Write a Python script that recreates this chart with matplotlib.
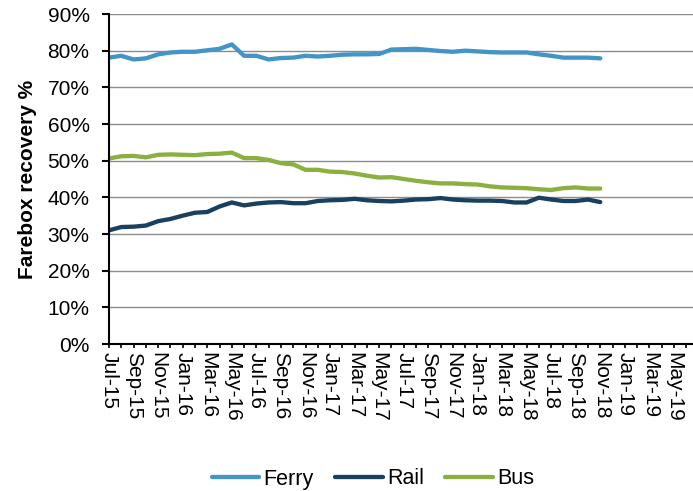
import numpy as np
import matplotlib
matplotlib.use("Agg")
import matplotlib.pyplot as plt
from matplotlib.ticker import FixedLocator, PercentFormatter

# Monthly farebox recovery (%), Jul-15 .. Nov-18
ferry = [78.1, 78.6, 77.6, 77.9, 79.0, 79.5, 79.7, 79.7, 80.1, 80.5, 81.7,
         78.6, 78.6, 77.6, 78.0, 78.1, 78.6, 78.4, 78.6, 78.9, 79.0, 79.0,
         79.1, 80.3, 80.4, 80.5, 80.2, 79.9, 79.7, 80.0, 79.8, 79.6, 79.5,
         79.5, 79.5, 79.0, 78.6, 78.1, 78.1, 78.1, 77.9]
rail = [31.0, 31.9, 32.0, 32.3, 33.5, 34.1, 35.0, 35.8, 36.0, 37.5, 38.6,
        37.8, 38.3, 38.6, 38.7, 38.4, 38.4, 39.0, 39.2, 39.3, 39.6, 39.2,
        39.0, 38.9, 39.1, 39.4, 39.5, 39.8, 39.4, 39.2, 39.1, 39.1, 39.0,
        38.6, 38.6, 39.9, 39.4, 39.0, 39.0, 39.4, 38.7]
bus = [50.6, 51.2, 51.3, 50.9, 51.6, 51.7, 51.6, 51.5, 51.8, 51.9, 52.2,
       50.7, 50.7, 50.2, 49.3, 49.0, 47.5, 47.5, 47.0, 46.9, 46.5, 45.9,
       45.4, 45.5, 45.0, 44.5, 44.1, 43.8, 43.8, 43.6, 43.5, 43.0, 42.7,
       42.6, 42.5, 42.2, 42.0, 42.5, 42.7, 42.4, 42.4]

# Axis labels every second month, Jul-15 .. May-19 (48 monthly ticks)
tick_labels = ["Jul-15", "Sep-15", "Nov-15", "Jan-16", "Mar-16", "May-16",
               "Jul-16", "Sep-16", "Nov-16", "Jan-17", "Mar-17", "May-17",
               "Jul-17", "Sep-17", "Nov-17", "Jan-18", "Mar-18", "May-18",
               "Jul-18", "Sep-18", "Nov-18", "Jan-19", "Mar-19", "May-19"]
n_months = 48

series_names = ["Ferry", "Rail", "Bus"]
colors = ["#4394C7", "#1A405F", "#8AB13F"]

plt.rcParams['font.family'] = ['Liberation Sans', 'DejaVu Sans']

fig = plt.figure(figsize=(6.93, 4.91), dpi=100)
ax = fig.add_axes([109/693, 1-344/491, (693-109)/693, (344-14)/491])

x = np.arange(len(ferry))
for vals, name, c in zip([ferry, rail, bus], series_names, colors):
    ax.plot(x, vals, color=c, lw=3.1, label=name,
            solid_capstyle='round', solid_joinstyle='round', zorder=3)

ax.set_ylim(0, 90)
ax.set_xlim(0, 47.55)
ax.set_yticks(np.arange(0, 91, 10))
ax.yaxis.set_major_formatter(PercentFormatter(decimals=0))
ax.grid(axis='y', color='#8C8C8C', lw=1.0, zorder=0)
ax.set_axisbelow(True)

ax.set_xticks(np.arange(0, n_months, 2))
ax.set_xticklabels(tick_labels, rotation=-90, va='top', ha='center')
ax.xaxis.set_minor_locator(FixedLocator(np.arange(1, n_months, 2)))

for s in ['top', 'right']:
    ax.spines[s].set_visible(False)
for s in ['left', 'bottom']:
    ax.spines[s].set_linewidth(1.5)
    ax.spines[s].set_color('black')
    ax.spines[s].set_zorder(4)

ax.tick_params(axis='y', which='major', length=5, width=1.5, pad=9, labelsize=15)
ax.tick_params(axis='x', which='both', length=3, width=1.2, pad=2.5, labelsize=15)

ax.set_ylabel("Farebox recovery %", fontsize=15, fontweight='bold')
ax.yaxis.set_label_coords(-0.124, 0.5)

fig.legend(loc='center', bbox_to_anchor=(373/693, 1-479/491), ncol=3,
           frameon=False, fontsize=15.5, handlelength=2.2, handletextpad=0.2,
           columnspacing=1.0)

fig.savefig("out.png", dpi=100)
